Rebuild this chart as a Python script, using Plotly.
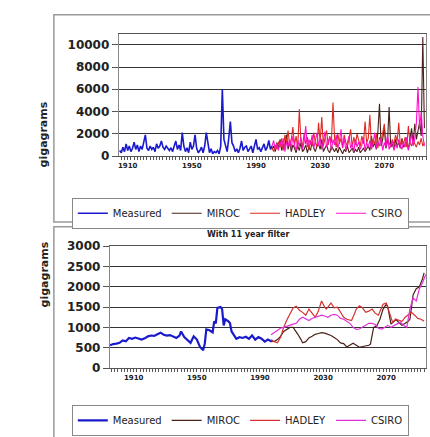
import plotly.graph_objects as go

# ---------------- data: annual values (top panel) ----------------
measured_start = 1905
measured = [500, 300, 800, 400, 1100, 500, 900, 400, 700, 1250,
            600, 1000, 400, 900, 600, 1200, 1900, 700, 500, 900,
            600, 800, 400, 1100, 700, 900, 1350, 800, 600, 900,
            700, 500, 750, 400, 900, 1350, 600, 1000, 500, 2100,
            900, 400, 750, 300, 1250, 600, 900, 1900, 700, 300,
            500, 800, 300, 900, 2100, 1000, 300, 650, 200, 400,
            300, 500, 200, 900, 6000, 1500, 900, 400, 1600, 3100,
            1200, 900, 400, 650, 300, 700, 1350, 500, 800, 900,
            400, 700, 900, 300, 800, 1500, 600, 750, 400, 700,
            1100, 500, 800, 1400, 600, 900]

model_start = 2000
miroc = [600, 900, 400, 1200, 700, 1500, 500, 1100, 800, 1900,
         600, 1300, 400, 1000, 700, 300, 900, 500, 1200, 400,
         600, 1000, 300, 800, 500, 1300, 700, 400, 900, 1100,
         600, 1500, 400, 800, 1000, 500, 300, 900, 600, 400,
         700, 300, 800, 500, 200, 600, 400, 900, 300, 500,
         700, 300, 600, 400, 800, 300, 500, 700, 400, 600,
         900, 500, 1800, 800, 1200, 600, 2200, 4700, 900, 1500,
         2600, 700, 1300, 4400, 800, 1100, 600, 1500, 900, 1200,
         700, 1600, 800, 1000, 1400, 600, 1800, 2500, 1200, 2900,
         1500, 2200, 3000, 1800, 10700, 2500]
hadley = [700, 400, 1000, 600, 1300, 800, 1600, 500, 1900, 1200,
          2300, 900, 1500, 2600, 1000, 1800, 700, 4200, 1400, 900,
          2000, 1100, 1700, 600, 1400, 900, 2100, 1200, 800, 3000,
          1300, 3500, 900, 1600, 2300, 1000, 1800, 1200, 4800, 1500,
          800, 2000, 1100, 1600, 700, 1900, 1200, 900, 1500, 2400,
          800, 1700, 1000, 2000, 1300, 900, 1800, 1100, 3100, 1200,
          1600, 3700, 900, 1500, 1100, 2000, 700, 1700, 1300, 2100,
          2900, 1000, 1600, 1200, 800, 1500, 1000, 1900, 1300, 3000,
          900, 1400, 1100, 1700, 800, 2700, 1200, 900, 1500, 1100,
          800, 1300, 1000, 1600, 900, 1200]
csiro = [900, 1400, 600, 1100, 500, 1300, 800, 1600, 400, 1200,
         900, 1500, 700, 1800, 1000, 500, 1400, 900, 1700, 600,
         1300, 2700, 800, 1500, 1000, 1900, 700, 1300, 2100, 900,
         1600, 600, 1400, 2200, 800, 1200, 1700, 500, 1500, 1000,
         1900, 700, 1300, 2400, 800, 1600, 500, 1200, 1800, 700,
         1100, 400, 1500, 800, 1300, 600, 1000, 1700, 500, 1200,
         800, 1400, 600, 1100, 2100, 700, 1300, 900, 1600, 500,
         1200, 800, 1900, 600, 1000, 1400, 500, 1100, 700, 1500,
         900, 600, 1300, 800, 1700, 500, 1200, 2000, 900, 1600,
         3000, 6200, 2500, 4000, 1800, 900]

# ---------------- data: 11-year filtered (bottom panel) ----------------
f_meas_years = [1895, 1897, 1899, 1901, 1903, 1905, 1907, 1909, 1911, 1913,
                1915, 1917, 1919, 1921, 1923, 1925, 1927, 1929, 1931, 1933,
                1935, 1937, 1939, 1940, 1942, 1944, 1946, 1948, 1950, 1952,
                1954, 1955, 1956, 1958, 1960, 1961, 1962, 1963, 1965, 1966,
                1967, 1968, 1970, 1971, 1972, 1973, 1975, 1977, 1979, 1981,
                1983, 1985, 1987, 1989, 1991, 1993, 1995, 1997, 1998]
f_meas = [560, 590, 600, 620, 680, 660, 740, 720, 750, 730,
          700, 730, 780, 800, 790, 830, 870, 820, 800, 810,
          780, 740, 800, 900, 760, 690, 620, 780, 700, 520,
          440, 600, 950, 930, 880, 1150, 1100, 1480, 1500, 1450,
          1050, 1200, 1150, 1100, 900, 840, 720, 760, 740, 770,
          720, 800, 700, 760, 720, 650, 700, 660, 690]

f_had_years = [1997, 1999, 2001, 2003, 2005, 2007, 2009, 2011, 2013, 2015,
               2017, 2019, 2021, 2023, 2025, 2027, 2029, 2031, 2032, 2034,
               2035, 2037, 2039, 2041, 2043, 2045, 2048, 2050, 2051, 2053,
               2055, 2057, 2059, 2061, 2063, 2065, 2067, 2068, 2070, 2072,
               2074, 2076, 2078, 2080, 2082, 2084, 2086, 2088, 2090, 2092,
               2094]
f_had = [680, 640, 620, 750, 1000, 1180, 1350, 1480, 1520, 1420,
         1370, 1300, 1450, 1350, 1250, 1400, 1650, 1500, 1450, 1550,
         1600, 1480, 1500, 1380, 1250, 1200, 1170, 1350, 1450, 1530,
         1480, 1370, 1400, 1450, 1350, 1300, 1500, 1570, 1600, 1350,
         1130, 1200, 1170, 1150, 1250, 1300, 1370, 1300, 1220, 1200,
         1150]

f_mir_years = [1997, 1999, 2001, 2003, 2005, 2007, 2009, 2011, 2013, 2014,
               2016, 2017, 2019, 2021, 2023, 2025, 2027, 2029, 2031, 2033,
               2035, 2037, 2039, 2041, 2043, 2045, 2047, 2049, 2051, 2053,
               2055, 2057, 2059, 2060, 2062, 2064, 2066, 2068, 2070, 2071,
               2073, 2075, 2076, 2078, 2080, 2082, 2084, 2085, 2086, 2087,
               2089, 2091, 2093, 2094]
f_mir = [660, 650, 700, 780, 900, 960, 1000, 1000, 900, 830,
         700, 620, 650, 740, 780, 830, 850, 870, 860, 830,
         800, 750, 700, 620, 600, 520, 560, 610, 560, 510,
         530, 550, 560, 590, 1000, 1040, 1200, 1450, 1570, 1500,
         1080, 1150, 1200, 1120, 1050, 1100, 1150, 1200, 1500, 1800,
         1950, 2000, 2200, 2340]

f_csi_years = [1997, 1999, 2001, 2003, 2005, 2007, 2009, 2011, 2013, 2015,
               2017, 2019, 2021, 2023, 2025, 2027, 2029, 2031, 2033, 2035,
               2037, 2039, 2041, 2043, 2045, 2047, 2049, 2051, 2053, 2055,
               2057, 2059, 2061, 2063, 2065, 2067, 2069, 2071, 2073, 2075,
               2077, 2079, 2081, 2083, 2085, 2087, 2089, 2091, 2093, 2095]
f_csi = [820, 880, 930, 980, 1000, 1030, 1050, 1080, 1100, 1200,
         1250, 1200, 1170, 1220, 1250, 1280, 1300, 1280, 1250, 1300,
         1320, 1300, 1220, 1200, 1150, 1100, 1000, 950, 960, 1000,
         1050, 1100, 1100, 1070, 980, 960, 1000, 1050, 1000, 1050,
         1100, 1130, 1050, 1000, 1450, 1720, 1650, 1950, 2100, 2300]

x_ticks = [1910, 1950, 1990, 2030, 2070]
top_y_ticks = [0, 2000, 4000, 6000, 8000, 10000]
bot_y_ticks = [0, 500, 1000, 1500, 2000, 2500, 3000]
names = ["Measured", "MIROC", "HADLEY", "CSIRO"]
colors = ["#1a1acc", "#4a2018", "#dd2a22", "#ff10c8"]
colors_f = ["#1a1acc", "#4a2018", "#d63030", "#e030d8"]

meas_years = list(range(measured_start, measured_start + len(measured)))
model_years = list(range(model_start, model_start + len(miroc)))

W, H = 430, 437
def px(x):
    return x / W
def py(y):
    return 1 - y / H

fig = go.Figure()

top_series = [(meas_years, measured), (model_years, miroc),
              (model_years, hadley), (model_years, csiro)]
for i, (xs, ys) in enumerate(top_series):
    fig.add_trace(go.Scatter(x=xs, y=ys, mode="lines", name=names[i],
                             line=dict(color=colors[i], width=1.6 if i == 0 else 1.1),
                             xaxis="x", yaxis="y", legend="legend"))

bot_series = [(f_meas_years, f_meas), (f_mir_years, f_mir),
              (f_had_years, f_had), (f_csi_years, f_csi)]
for i, (xs, ys) in enumerate(bot_series):
    fig.add_trace(go.Scatter(x=xs, y=ys, mode="lines", name=names[i],
                             line=dict(color=colors_f[i], width=2.2 if i == 0 else 1.2),
                             xaxis="x2", yaxis="y2", legend="legend2"))

xfont = dict(family="DejaVu Sans", size=7, color="#222", weight="bold")
yfont = dict(family="DejaVu Sans", size=12, color="#222", weight="bold")
minor = dict(tickmode="linear", tick0=1900, dtick=2, ticks="outside",
             ticklen=3, tickcolor="#555", tickwidth=1)
common_x = dict(tickmode="array", tickvals=x_ticks, ticks="outside", ticklen=3,
                tickcolor="#555", tickfont=xfont, showgrid=False, showline=True,
                linecolor="#555", linewidth=1, mirror=True, zeroline=False,
                minor=minor)
common_y = dict(tickmode="array", ticks="outside", ticklen=6, tickcolor="#555",
                tickfont=yfont, tickformat="d", showgrid=True, gridcolor="#333",
                gridwidth=1, showline=True, linecolor="#888", linewidth=1,
                mirror=True, zeroline=False)
legfont = dict(family="DejaVu Sans", size=10, color="#222")

fig.update_layout(
    width=W, height=H, margin=dict(l=0, r=0, t=0, b=0),
    paper_bgcolor="white", plot_bgcolor="white",
    xaxis=dict(domain=[px(118), px(426)], range=[1904.4, 2096], anchor="y", **common_x),
    yaxis=dict(domain=[py(154), py(28)], range=[0, 10957], tickvals=top_y_ticks,
               anchor="x", **common_y),
    xaxis2=dict(domain=[px(109), px(426)], range=[1894.8, 2095.2], anchor="y2", **common_x),
    yaxis2=dict(domain=[py(373), py(247)], range=[0, 3000], tickvals=bot_y_ticks,
                anchor="x2", **common_y),
    legend=dict(orientation="h", x=px(71), y=py(197), xanchor="left", yanchor="top",
                bordercolor="#888", borderwidth=1, bgcolor="white",
                font=legfont, itemwidth=30, tracegroupgap=0),
    legend2=dict(orientation="h", x=px(71), y=py(411), xanchor="left", yanchor="top",
                 bordercolor="#888", borderwidth=1, bgcolor="white",
                 font=legfont, itemwidth=30, tracegroupgap=0),
    showlegend=True,
)

# panel frames
fig.add_shape(type="rect", xref="paper", yref="paper", x0=px(53), x1=1.05,
              y0=py(222), y1=py(8), line=dict(color="#999", width=1.5), layer="below")
fig.add_shape(type="rect", xref="paper", yref="paper", x0=px(53), x1=1.05,
              y0=-0.05, y1=py(227), line=dict(color="#999", width=1.5), layer="below")

# axis titles and panel title
fig.add_annotation(text="<b>gigagrams</b>", xref="paper", yref="paper", x=px(35), y=py(95),
                   showarrow=False, textangle=-90,
                   font=dict(family="DejaVu Sans", size=11, color="#222"))
fig.add_annotation(text="<b>gigagrams</b>", xref="paper", yref="paper", x=px(35), y=py(312),
                   showarrow=False, textangle=-90,
                   font=dict(family="DejaVu Sans", size=11, color="#222"))
fig.add_annotation(text="<b>With 11 year filter</b>", xref="paper", yref="paper",
                   x=px(248), y=py(235), showarrow=False,
                   font=dict(family="DejaVu Sans", size=8, color="#222"))

fig.write_html("out.html", config={"displayModeBar": False},
               post_script="document.body.style.margin='0';document.body.style.overflow='hidden';")
